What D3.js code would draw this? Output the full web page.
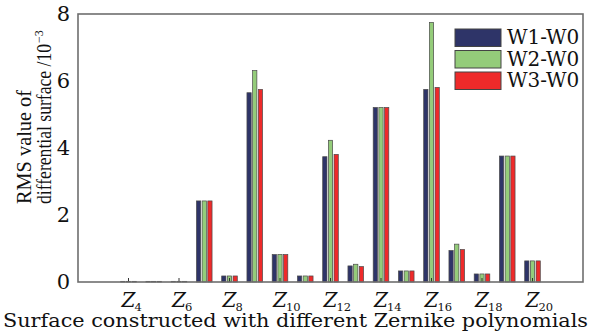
<!DOCTYPE html>
<html>
<head>
<meta charset="utf-8">
<script src="https://cdn.jsdelivr.net/npm/d3@7"></script>
<style>
  body { margin: 0; background: #fff; }
  text { font-family: "DejaVu Serif", "Liberation Serif", serif; fill: #111; }
</style>
</head>
<body>
<div id="chart"></div>
<script>
// Zernike term index for each group of bars
var terms = [4, 5, 6, 7, 8, 9, 10, 11, 12, 13, 14, 15, 16, 17, 18, 19, 20];
var labelTerms = [4, 6, 8, 10, 12, 14, 16, 18, 20];
var series = ["W1-W0", "W2-W0", "W3-W0"];
var colors = ["#2e3468", "#94cc7a", "#ee2a2a"];

var w1 = [0.02, 0.02, 0.02, 2.42, 0.18, 5.65, 0.82, 0.18, 3.74, 0.48, 5.21, 0.33, 5.75, 0.94, 0.24, 3.76, 0.63];
var w2 = [0.02, 0.02, 0.02, 2.42, 0.18, 6.31, 0.82, 0.18, 4.23, 0.53, 5.21, 0.33, 7.75, 1.13, 0.24, 3.76, 0.63];
var w3 = [0.02, 0.02, 0.02, 2.42, 0.18, 5.75, 0.82, 0.18, 3.81, 0.46, 5.21, 0.33, 5.81, 0.97, 0.24, 3.76, 0.63];
var yTicks = [0, 2, 4, 6, 8];

var values = [w1, w2, w3];

var margin = {top: 14, right: 19, bottom: 49, left: 78},
    width = 602 - margin.left - margin.right,
    height = 331 - margin.top - margin.bottom;

var svg = d3.select("#chart")
  .append("svg")
    .attr("width", 602)
    .attr("height", 331)
  .append("g")
    .attr("transform", "translate(" + margin.left + "," + margin.top + ")");

// x: term index on a linear scale, 2..22
var x = d3.scaleLinear().domain([2, 22]).range([0, width]);
var xs = d3.scaleBand().domain(series).range([-7.8, 7.8]).paddingInner(0.25);

var y = d3.scaleLinear().domain([0, 8]).range([height, 0]);

// y axis labels
var yAxis = svg.append("g")
  .call(d3.axisLeft(y).tickValues(yTicks).tickSize(0).tickPadding(8));
yAxis.select(".domain").remove();
yAxis.selectAll("text")
  .attr("font-size", 21)
  .attr("font-family", "DejaVu Serif")
  .attr("fill", "#111");

// bars
series.forEach(function(s, si) {
  svg.append("g").selectAll("rect")
    .data(terms)
    .enter()
    .append("rect")
      .attr("x", function(d) { return x(d) + xs(s); })
      .attr("y", function(d, i) { return y(values[si][i]); })
      .attr("width", xs.bandwidth())
      .attr("height", function(d, i) { return height - y(values[si][i]); })
      .attr("fill", colors[si])
      .attr("stroke", "#4a4a4a")
      .attr("stroke-width", 0.7);
});

// small inward ticks at labelled terms
svg.append("g").selectAll("line")
  .data(labelTerms)
  .enter()
  .append("line")
    .attr("x1", function(d) { return x(d); })
    .attr("x2", function(d) { return x(d); })
    .attr("y1", height)
    .attr("y2", height - 4)
    .attr("stroke", "#333")
    .attr("stroke-width", 1);

// frame
svg.append("rect")
  .attr("width", width)
  .attr("height", height)
  .attr("fill", "none")
  .attr("stroke", "#6e6e6e")
  .attr("stroke-width", 1.6);

// x tick labels Z_n
var xl = svg.append("g").selectAll("g")
  .data(labelTerms)
  .enter()
  .append("g")
    .attr("transform", function(d) { return "translate(" + x(d) + "," + (height + 25) + ")"; });
xl.append("text")
  .attr("text-anchor", "middle")
  .attr("font-size", 20)
  .attr("font-style", "italic")
  .text("Z");
xl.append("text")
  .attr("x", 6)
  .attr("y", 3.5)
  .attr("font-size", 11.5)
  .text(function(d) { return d; });

// x title
svg.append("text")
  .attr("x", -75)
  .attr("y", height + 45)
  .attr("font-size", 18.5)
  .attr("textLength", 585)
  .attr("lengthAdjust", "spacingAndGlyphs")
  .text("Surface constructed with different Zernike polynomials");

// y title, two lines
var yt = svg.append("g")
  .attr("transform", "translate(-47,190) rotate(-90)");
yt.append("text")
  .attr("font-size", 20.5)
  .style("font-family", "'Liberation Serif', serif")
  .attr("textLength", 114)
  .attr("lengthAdjust", "spacingAndGlyphs")
  .text("RMS value of");
yt.append("text")
  .attr("y", 20)
  .attr("font-size", 20.5)
  .style("font-family", "'Liberation Serif', serif")
  .attr("textLength", 160)
  .attr("lengthAdjust", "spacingAndGlyphs")
  .text("differential surface /10");
yt.append("text")
  .attr("x", 161)
  .attr("y", 12)
  .attr("font-size", 12)
  .style("font-family", "'Liberation Serif', serif")
  .text("\u22123");

// legend
var lg = svg.append("g").attr("transform", "translate(377,15)");
series.forEach(function(s, i) {
  lg.append("rect")
    .attr("x", 0)
    .attr("y", i * 21.5)
    .attr("width", 46)
    .attr("height", 17.5)
    .attr("fill", colors[i])
    .attr("stroke", "#444")
    .attr("stroke-width", 1);
  lg.append("text")
    .attr("x", 52)
    .attr("y", i * 21.5 + 15)
    .attr("font-size", 20)
    .text(s);
});
</script>
</body>
</html>
